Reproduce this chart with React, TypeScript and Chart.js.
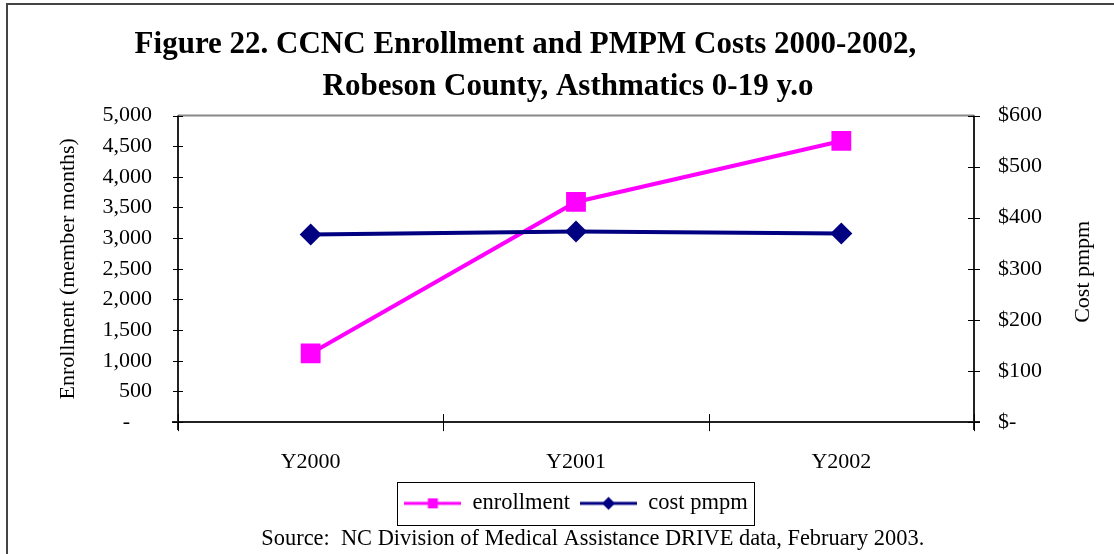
import React, { useEffect, useRef } from 'react';
import { Chart, registerables } from 'chart.js';

Chart.register(...registerables);

// ---- data ----
const categories = ['Y2000', 'Y2001', 'Y2002'];
const enrollment = [1120, 3590, 4585];
const costPmpm = [367, 373, 369];
const seriesNames = ['enrollment', 'cost pmpm'];
const titleLines = [
  'Figure 22. CCNC Enrollment and PMPM Costs 2000-2002,',
  'Robeson County, Asthmatics 0-19 y.o',
];
const leftAxisTitle = 'Enrollment (member months)';
const rightAxisTitle = 'Cost pmpm';
const sourceNote = 'Source:  NC Division of Medical Assistance DRIVE data, February 2003.';
const leftAxisMax = 5000;
const leftAxisStep = 500;
const rightAxisMax = 600;
const rightAxisStep = 100;

const FONT = "'Liberation Serif', 'Times New Roman', serif";
const MAGENTA = '#FF00FF';
const NAVY = '#000080';

function makeSample(color: string, shape: 'rect' | 'diamond'): HTMLCanvasElement {
  const c = document.createElement('canvas');
  c.width = 57;
  c.height = 16;
  const ctx = c.getContext('2d')!;
  ctx.strokeStyle = color;
  ctx.lineWidth = 3;
  ctx.beginPath();
  ctx.moveTo(0, 8);
  ctx.lineTo(57, 8);
  ctx.stroke();
  ctx.fillStyle = color;
  if (shape === 'rect') {
    ctx.fillRect(23.5, 3, 10, 10);
  } else {
    ctx.beginPath();
    ctx.moveTo(28.5, 1.5);
    ctx.lineTo(35, 8);
    ctx.lineTo(28.5, 14.5);
    ctx.lineTo(22, 8);
    ctx.closePath();
    ctx.fill();
  }
  return c;
}

const excelAxesPlugin = {
  id: 'excelAxes',
  beforeDatasetsDraw(chart: any) {
    const { ctx, chartArea: a, scales } = chart;
    ctx.save();
    // plot area border (gray)
    ctx.strokeStyle = '#888';
    ctx.lineWidth = 2;
    ctx.beginPath();
    ctx.moveTo(a.left, a.top);
    ctx.lineTo(a.right, a.top);
    ctx.stroke();
    // axis lines
    ctx.strokeStyle = '#222';
    ctx.lineWidth = 2;
    ctx.beginPath();
    ctx.moveTo(a.left, a.top);
    ctx.lineTo(a.left, a.bottom + 8);
    ctx.moveTo(a.right, a.top);
    ctx.lineTo(a.right, a.bottom + 8);
    ctx.moveTo(a.left - 6, a.bottom);
    ctx.lineTo(a.right + 6, a.bottom);
    ctx.stroke();
    // cross tick marks
    ctx.strokeStyle = '#000';
    ctx.lineWidth = 1;
    ctx.beginPath();
    const y = scales.y;
    y.ticks.forEach((t: any) => {
      const p = Math.round(y.getPixelForValue(t.value)) + 0.5;
      ctx.moveTo(a.left - 5, p);
      ctx.lineTo(a.left + 5, p);
    });
    const y1 = scales.y1;
    y1.ticks.forEach((t: any) => {
      const p = Math.round(y1.getPixelForValue(t.value)) + 0.5;
      ctx.moveTo(a.right - 6, p);
      ctx.lineTo(a.right + 6, p);
    });
    const x = scales.x;
    const n = categories.length;
    for (let i = 0; i <= n; i++) {
      let p;
      if (i === 0) p = a.left;
      else if (i === n) p = a.right;
      else p = (x.getPixelForValue(i - 1) + x.getPixelForValue(i)) / 2;
      p = Math.round(p) + 0.5;
      ctx.moveTo(p, a.bottom - 8);
      ctx.lineTo(p, a.bottom + 9);
    }
    ctx.stroke();
    ctx.restore();
  },
  afterDraw(chart: any) {
    const { ctx, chartArea: a, scales } = chart;
    // right axis title, reading bottom-to-top like the left one
    const y1 = scales.y1;
    ctx.save();
    ctx.fillStyle = '#000';
    ctx.font = `22px ${FONT}`;
    ctx.textAlign = 'center';
    ctx.textBaseline = 'middle';
    ctx.translate(y1.right - 9.8 - 13.2, (a.top + a.bottom) / 2 + 3);
    ctx.rotate(-Math.PI / 2);
    ctx.fillText(rightAxisTitle, 0, 0);
    ctx.restore();

    // legend frame
    const hb = chart.legend?.legendHitBoxes;
    if (!hb || !hb.length) return;
    const left = Math.min(...hb.map((b: any) => b.left)) - 7;
    const right = Math.max(...hb.map((b: any) => b.left + b.width)) + 7;
    const top = Math.min(...hb.map((b: any) => b.top)) - 10;
    const bottom = Math.max(...hb.map((b: any) => b.top + b.height)) + 10;
    ctx.save();
    ctx.strokeStyle = '#000';
    ctx.lineWidth = 1;
    ctx.strokeRect(Math.round(left) + 0.5, Math.round(top) + 0.5, Math.round(right - left), Math.round(bottom - top));
    ctx.restore();
  },
};

const fmtThousands = (v: number) =>
  v === 0 ? '-\u2007\u2007' : v.toLocaleString('en-US');
const fmtDollars = (v: number) => (v === 0 ? '$-' : '$' + v);

export default function App() {
  const ref = useRef<HTMLCanvasElement>(null);

  useEffect(() => {
    if (!ref.current) return;
    const enrollSample = makeSample(MAGENTA, 'rect');
    const costSample = makeSample(NAVY, 'diamond');
    const pad = '\u00a0'.repeat(11);
    const srcPad = '\u00a0'.repeat(6);

    const chart = new Chart(ref.current, {
      type: 'line',
      data: {
        labels: categories,
        datasets: [
          {
            label: seriesNames[0],
            data: enrollment,
            yAxisID: 'y',
            borderColor: MAGENTA,
            backgroundColor: MAGENTA,
            borderWidth: 4,
            pointStyle: 'rect',
            pointRadius: 14,
            pointHoverRadius: 14,
            pointBorderWidth: 0,
            pointBackgroundColor: MAGENTA,
            tension: 0,
            order: 1,
          },
          {
            label: seriesNames[1],
            data: costPmpm,
            yAxisID: 'y1',
            borderColor: NAVY,
            backgroundColor: NAVY,
            borderWidth: 4,
            pointStyle: 'rectRot',
            pointRadius: 11,
            pointHoverRadius: 11,
            pointBorderWidth: 0,
            pointBackgroundColor: NAVY,
            tension: 0,
            order: 0,
          },
        ],
      },
      options: {
        animation: false,
        responsive: true,
        maintainAspectRatio: false,
        events: [],
        layout: { padding: { left: 30, right: 8, top: 0, bottom: 1 } },
        plugins: {
          title: {
            display: true,
            text: [titleLines[0] + pad, titleLines[1]],
            color: '#000',
            font: { family: FONT, size: 31, weight: 'bold', lineHeight: 42 / 31 },
            padding: { top: 24, bottom: 7.5 },
          },
          subtitle: {
            display: true,
            position: 'bottom',
            fullSize: false,
            text: srcPad + sourceNote,
            color: '#000',
            font: { family: FONT, size: 22.4, lineHeight: 1.2 },
            padding: { top: 1.5, bottom: 0 },
          },
          legend: {
            display: true,
            position: 'bottom',
            fullSize: false,
            labels: {
              usePointStyle: true,
              pointStyleWidth: 57,
              color: '#000',
              padding: 10,
              font: { family: FONT, size: 22.5 },
              generateLabels: () => [
                {
                  text: seriesNames[0],
                  pointStyle: enrollSample as any,
                  fillStyle: MAGENTA,
                  strokeStyle: MAGENTA,
                  lineWidth: 0,
                  hidden: false,
                  datasetIndex: 0,
                  fontColor: '#000',
                },
                {
                  text: seriesNames[1],
                  pointStyle: costSample as any,
                  fillStyle: NAVY,
                  strokeStyle: NAVY,
                  lineWidth: 0,
                  hidden: false,
                  datasetIndex: 1,
                  fontColor: '#000',
                },
              ],
            },
          },
          tooltip: { enabled: false },
        },
        scales: {
          x: {
            type: 'category',
            offset: true,
            grid: { display: false, drawTicks: false },
            border: { display: false },
            ticks: {
              color: '#000',
              font: { family: FONT, size: 22, lineHeight: 1.2 },
              padding: 27,
              maxRotation: 0,
            },
            afterFit: (s: any) => {
              s.height = 60;
            },
          },
          y: {
            type: 'linear',
            position: 'left',
            min: 0,
            max: leftAxisMax,
            grid: { display: false, drawTicks: false },
            border: { display: false },
            ticks: {
              stepSize: leftAxisStep,
              color: '#000',
              font: { family: FONT, size: 22 },
              padding: 26,
              callback: (v: any) => fmtThousands(Number(v)),
            },
            title: {
              display: true,
              text: leftAxisTitle,
              color: '#000',
              font: { family: FONT, size: 22, lineHeight: 1.2 },
              padding: { top: 24.8, bottom: 0 },
            },
            afterFit: (s: any) => {
              s.width = 148;
            },
          },
          y1: {
            type: 'linear',
            position: 'right',
            min: 0,
            max: rightAxisMax,
            grid: { display: false, drawTicks: false },
            border: { display: false },
            ticks: {
              stepSize: rightAxisStep,
              color: '#000',
              font: { family: FONT, size: 22 },
              padding: 24,
              callback: (v: any) => fmtDollars(Number(v)),
            },
            title: { display: false },
            afterFit: (s: any) => {
              s.width = 132;
            },
          },
        },
      } as any,
      plugins: [excelAxesPlugin],
    });
    return () => chart.destroy();
  }, []);

  return (
    <>
      <div
        style={{
          position: 'fixed',
          left: 6,
          top: 3,
          width: 1106,
          height: 549,
          borderLeft: '2px solid #444',
          borderTop: '2px solid #444',
          background: '#fff',
        }}
      />
      <div style={{ position: 'fixed', left: 0, top: 0, width: 1114, height: 554 }}>
        <canvas ref={ref} />
      </div>
    </>
  );
}
